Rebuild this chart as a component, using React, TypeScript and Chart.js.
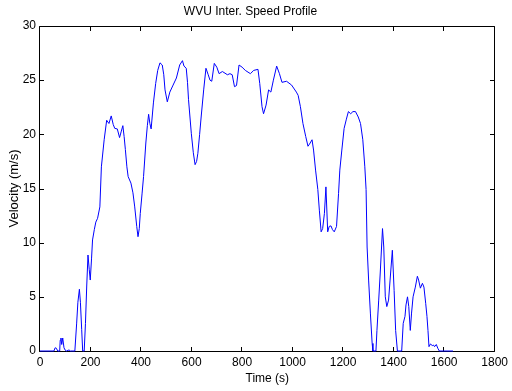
import React, { useEffect, useRef } from "react";
import { Chart, registerables } from "chart.js";

Chart.register(...registerables);

const TITLE = "WVU Inter. Speed Profile";
const X_LABEL = "Time (s)";
const Y_LABEL = "Velocity (m/s)";

const X_MIN = 0;
const X_MAX = 1800;
const X_STEP = 200;
const Y_MIN = 0;
const Y_MAX = 30;
const Y_STEP = 5;

const timeS: number[] = [
  0, 55, 60, 65, 70, 78, 80, 83, 86, 90, 95, 99, 105, 115, 120, 138, 145, 150, 156, 160,
  165, 169, 175, 180, 185, 190, 195, 199, 204, 208, 215, 221, 228, 237, 243, 254, 264, 273, 282, 290,
  296, 306, 315, 322, 328, 333, 338, 344, 349, 360, 368, 375, 383, 388, 393, 397, 404, 410, 419, 425,
  430, 435, 440, 449, 458, 466, 475, 484, 490, 495, 504, 514, 527, 540, 553, 564, 570, 579, 584, 588,
  599, 607, 614, 620, 625, 632, 638, 648, 657, 666, 673, 680, 690, 700, 709, 722, 742, 752, 761, 770,
  778, 788, 800, 813, 833, 846, 863, 870, 879, 885, 895, 905, 914, 924, 937, 948, 958, 976, 996, 1015,
  1022, 1031, 1041, 1052, 1061, 1067, 1077, 1083, 1091, 1100, 1106, 1113, 1119, 1126, 1132, 1139, 1145, 1152, 1158, 1165,
  1174, 1182, 1187, 1195, 1204, 1213, 1221, 1230, 1239, 1249, 1260, 1269, 1278, 1286, 1291, 1295, 1301, 1308, 1315, 1318,
  1330, 1334, 1341, 1347, 1356, 1361, 1367, 1373, 1380, 1386, 1395, 1402, 1408, 1415, 1432, 1438, 1445, 1449, 1455, 1460,
  1466, 1471, 1477, 1486, 1494, 1499, 1506, 1514, 1520, 1527, 1532, 1536, 1540, 1546, 1553, 1558, 1562, 1569, 1575, 1581,
  1635,
];

const velocityMs: number[] = [
  0, 0, 0.3, 0.25, 0, 0, 1.0, 1.2, 0.6, 1.2, 0.3, 0.1, 0, 0.1, 0, 0, 2.5, 4.5, 5.7, 4.5,
  2.0, 0, 0, 2.55, 6.0, 8.86, 7.5, 6.55, 8.5, 10.25, 11.2, 11.9, 12.25, 13.3, 17.0, 19.5, 21.3, 21.0, 21.7, 20.9,
  20.55, 20.5, 19.7, 20.3, 20.8, 19.8, 18.6, 17.0, 16.1, 15.5, 14.6, 13.3, 11.5, 10.55, 11.3, 12.7, 14.5, 16.1, 19.2, 20.8,
  21.85, 21.0, 20.5, 22.9, 24.7, 25.9, 26.6, 26.4, 25.5, 24.1, 23.0, 23.9, 24.55, 25.2, 26.4, 26.8, 26.3, 26.1, 24.8, 23.2,
  20.1, 18.3, 17.2, 17.5, 18.25, 20.0, 21.6, 24.1, 26.1, 25.5, 25.0, 24.9, 26.55, 26.2, 25.6, 25.8, 25.5, 25.6, 25.5, 24.4,
  24.5, 26.4, 26.2, 25.9, 25.6, 25.9, 26.0, 24.7, 22.55, 21.9, 22.7, 24.1, 23.9, 25.0, 26.3, 25.6, 24.8, 24.9, 24.55, 23.9,
  23.6, 22.55, 21.0, 19.8, 18.9, 19.1, 19.5, 18.55, 16.7, 14.9, 13.0, 11.0, 11.3, 12.7, 15.15, 11.0, 11.5, 11.55, 11.2, 11.0,
  11.5, 14.55, 16.7, 18.55, 20.55, 21.4, 22.1, 21.9, 22.1, 22.1, 21.6, 21.0, 19.5, 17.0, 14.9, 9.6, 6.55, 3.5, 0.7, 0,
  0, 1.9, 4.7, 7.2, 11.3, 9.6, 5.0, 4.1, 4.7, 6.55, 9.3, 5.6, 1.9, 0, 0, 2.55, 3.2, 4.25, 5.0, 4.1,
  1.9, 3.5, 5.0, 5.9, 6.9, 6.55, 5.8, 6.25, 5.9, 4.4, 3.2, 1.9, 0.4, 0.65, 0.5, 0.55, 0.4, 0.6, 0.25, 0,
  0,
];

const NARROW = '"Liberation Sans Narrow", "Arial Narrow", "Liberation Sans", sans-serif';
const REGULAR = '"Liberation Sans", Arial, sans-serif';

const matlabBox = {
  id: "matlabBox",
  beforeDatasetsDraw(chart: any) {
    const { ctx, chartArea } = chart;
    const xs = chart.scales.x;
    const ys = chart.scales.y;
    const L = Math.round(chartArea.left) - 0.5;
    const R = Math.round(chartArea.right) - 0.5;
    const T = Math.round(chartArea.top) + 0.5;
    const B = Math.round(chartArea.bottom) + 0.5;
    const tl = 4.5;
    ctx.save();
    ctx.strokeStyle = "#000";
    ctx.lineWidth = 1;
    ctx.beginPath();
    ctx.rect(L, T, R - L, B - T);
    ctx.stroke();
    ctx.beginPath();
    xs.ticks.forEach((t: any) => {
      const p = Math.round(xs.getPixelForValue(t.value)) - 0.5;
      ctx.moveTo(p, B);
      ctx.lineTo(p, B - tl);
      ctx.moveTo(p, T);
      ctx.lineTo(p, T + tl);
    });
    ys.ticks.forEach((t: any) => {
      const p = Math.round(ys.getPixelForValue(t.value)) + 0.5;
      ctx.moveTo(L, p);
      ctx.lineTo(L + tl, p);
      ctx.moveTo(R, p);
      ctx.lineTo(R - tl, p);
    });
    ctx.stroke();
    ctx.restore();
  },
};

export default function App() {
  const canvasRef = useRef<HTMLCanvasElement | null>(null);

  useEffect(() => {
    const canvas = canvasRef.current;
    if (!canvas) return;
    const points = timeS.map((t, i) => ({ x: t, y: velocityMs[i] }));
    const chart = new Chart(canvas, {
      type: "line",
      data: {
        datasets: [
          {
            data: points,
            borderColor: "#0000ff",
            borderWidth: 1,
            pointRadius: 0,
            tension: 0,
            fill: false,
            clip: 2,
          },
        ],
      },
      options: {
        animation: false,
        responsive: false,
        devicePixelRatio: 1,
        layout: { padding: { left: 0, right: 11, top: 0, bottom: 0 } },
        plugins: {
          legend: { display: false },
          tooltip: { enabled: false },
          title: {
            display: true,
            text: TITLE,
            color: "#000",
            font: { family: NARROW, size: 12, weight: "normal", lineHeight: 1.2 },
            padding: { top: 4.6, bottom: 7 },
          },
        },
        scales: {
          x: {
            type: "linear",
            min: X_MIN,
            max: X_MAX,
            ticks: {
              stepSize: X_STEP,
              color: "#000",
              padding: 4,
              maxRotation: 0,
              font: { family: NARROW, size: 12 },
              callback: (v: any) => String(v),
            },
            grid: { display: false, drawTicks: false },
            border: { display: false },
            title: {
              display: true,
              text: X_LABEL,
              color: "#000",
              font: { family: NARROW, size: 12, lineHeight: 1.2 },
              padding: { top: 0, bottom: 5 },
            },
            afterFit(scale: any) {
              scale.height = 40;
            },
          },
          y: {
            type: "linear",
            min: Y_MIN,
            max: Y_MAX,
            ticks: {
              stepSize: Y_STEP,
              color: "#000",
              padding: 4,
              font: { family: NARROW, size: 12 },
              callback: (v: any) => String(v),
            },
            grid: { display: false, drawTicks: false },
            border: { display: false },
            title: {
              display: true,
              text: Y_LABEL,
              color: "#000",
              font: { family: REGULAR, size: 13, lineHeight: 1.2 },
              padding: { top: 7, bottom: 0 },
            },
            afterFit(scale: any) {
              scale.width = 40;
            },
          },
        },
      },
      plugins: [matlabBox],
    });
    return () => chart.destroy();
  }, []);

  return (
    <div style={{ position: "fixed", left: 0, top: 0, width: 512, height: 391, background: "#fff" }}>
      <canvas ref={canvasRef} width={512} height={391} style={{ display: "block" }} />
    </div>
  );
}
